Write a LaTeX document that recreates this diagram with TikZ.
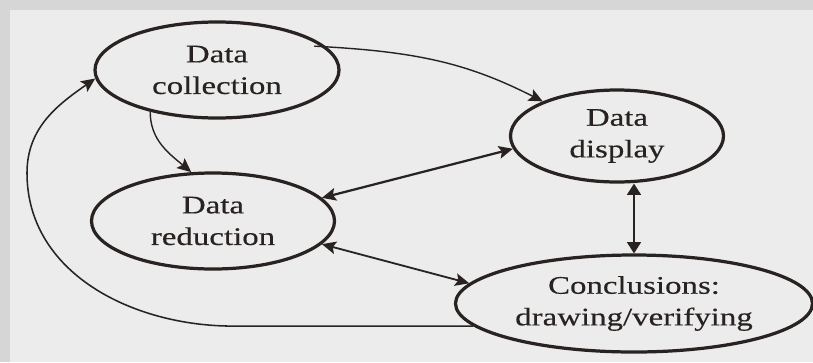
\documentclass[tikz,border=0pt]{standalone}
\usepackage{fontspec}
\setmainfont{Liberation Serif}[FakeStretch=1.3,FakeBold=0.4]
\usetikzlibrary{arrows.meta,shapes.geometric}
\definecolor{ink}{RGB}{40,35,33}
\definecolor{paper}{RGB}{236,236,236}
\definecolor{band}{RGB}{214,214,214}
\begin{document}
\begin{tikzpicture}[stage/.style={ellipse, draw=ink, line width=2.3pt, inner sep=0pt, align=center, text=ink, font=\fontsize{18}{22.5}\selectfont},
  link/.style={draw=ink, line width=1pt},
  >={Stealth[length=10pt,width=9pt,inset=2pt]}]
			% paper and scan border
			\fill[paper] (0,0) rectangle (20.325,9.05);
			\fill[band] (0,8.8) rectangle (20.325,9.05);
			\fill[band] (0,0) rectangle (0.25,9.05);
			\useasboundingbox (0,0) rectangle (20.325,9.05);
			% the four stages
			\node[stage, minimum width=6.1cm, minimum height=2.4cm] (coll) at (5.425,7.3) {Data\\collection};
			\node[stage, minimum width=5.325cm, minimum height=2.3cm] (disp) at (15.425,5.65) {Data\\display};
			\node[stage, minimum width=6.075cm, minimum height=2.4cm] (red) at (5.325,3.525) {Data\\reduction};
			\node[stage, minimum width=8.925cm, minimum height=2.425cm] (conc) at (15.85,1.4625) {Conclusions:\\drawing/verifying};
			% connectors
			\draw[link, ->, shorten <=-0.3cm] (coll.12) to[out=-3, in=153] (disp.155);
			\draw[link, ->] (coll.212) to[out=-90, in=140] (red.114);
			\draw[link, <->, line width=1.6pt] (red.12) -- (disp.187);
			\draw[link, <->, line width=1.3pt] (red.-12) -- (conc.173);
			\draw[link, {Triangle[length=8pt,width=10pt]}-{Triangle[length=8pt,width=10pt]}, line width=0.9pt] (conc.north |- disp.south) -- (conc.north);
			\coordinate (bend) at (0.675,4.725);
			\draw[link, ->, line width=1.1pt] (conc.188) -- ++(-6,0) to[out=180, in=-90] (bend) to[out=90, in=-145] (coll.184);
\end{tikzpicture}
\end{document}
